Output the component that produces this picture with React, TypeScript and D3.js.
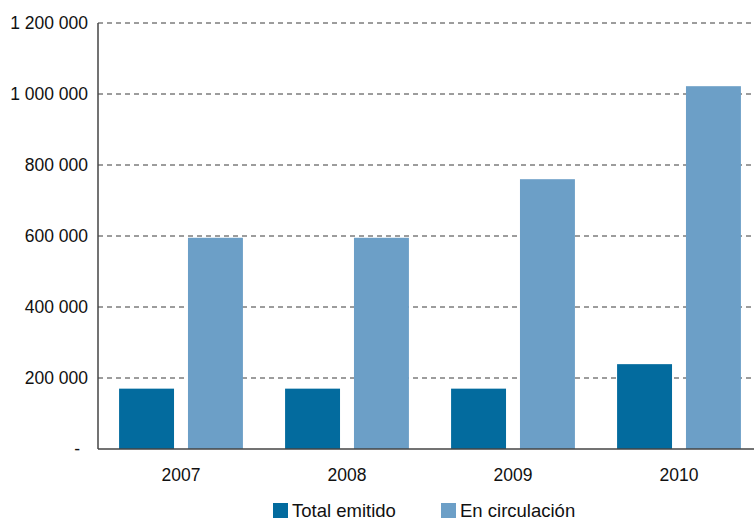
import React from 'react';
import * as d3 from 'd3';

const years = ['2007', '2008', '2009', '2010'];
const totalEmitido = [170000, 170000, 170000, 239000];
const enCirculacion = [595000, 595000, 760000, 1022000];
const yTicks = [0, 200000, 400000, 600000, 800000, 1000000, 1200000];
const seriesNames = ['Total emitido', 'En circulación'];
const colors = ['#036b9e', '#6c9fc7'];

const W = 754;
const H = 520;
const m = { top: 23, right: -8, bottom: 71, left: 98 };

function fmt(v: number) {
  if (v === 0) return '-';
  return d3.format(',')(v).replace(/,/g, ' ');
}

export default function App() {
  const x = d3.scaleBand().domain(years).range([m.left, W - m.right]);
  const y = d3.scaleLinear().domain([0, 1200000]).range([H - m.bottom, m.top]);
  const bw = x.bandwidth();
  const barW = bw * 0.331;
  const series = [totalEmitido, enCirculacion];
  const offsets = [bw * 0.127, bw * 0.542];

  return (
    <svg width={W} height={H} style={{ position: 'absolute', left: 0, top: 0 }}
      fontFamily="'Liberation Sans', Arial, sans-serif">
      {yTicks.map(t => (
        <g key={t}>
          {t > 0 && (
            <line x1={m.left} x2={W} y1={y(t)} y2={y(t)} stroke="#3a3a3a" strokeWidth={1}
              strokeDasharray="5,4" />
          )}
          <text x={t === 0 ? 80 : 88} y={y(t)} dy="0.35em" textAnchor="end" fontSize={17.5} fill="#111">
            {fmt(t)}
          </text>
        </g>
      ))}
      {series.map((s, si) =>
        s.map((v, i) => (
          <rect key={si + '-' + i} x={(x(years[i]) as number) + offsets[si]} y={y(v)}
            width={barW} height={y(0) - y(v)} fill={colors[si]} />
        ))
      )}
      <line x1={m.left} x2={m.left} y1={m.top} y2={y(0)} stroke="#444" strokeWidth={1.5} />
      <line x1={m.left} x2={W} y1={y(0)} y2={y(0)} stroke="#444" strokeWidth={1.5} />
      {years.map(yr => (
        <text key={yr} x={(x(yr) as number) + bw / 2} y={y(0) + 32} textAnchor="middle" fontSize={17.5} fill="#111">
          {yr}
        </text>
      ))}
      {seriesNames.map((n, i) => (
        <g key={n} transform={`translate(${[273, 441][i]},503)`}>
          <rect x={0} y={0} width={15} height={15} fill={colors[i]} />
          <text x={19} y={14} fontSize={18.5} fill="#111">{n}</text>
        </g>
      ))}
    </svg>
  );
}
